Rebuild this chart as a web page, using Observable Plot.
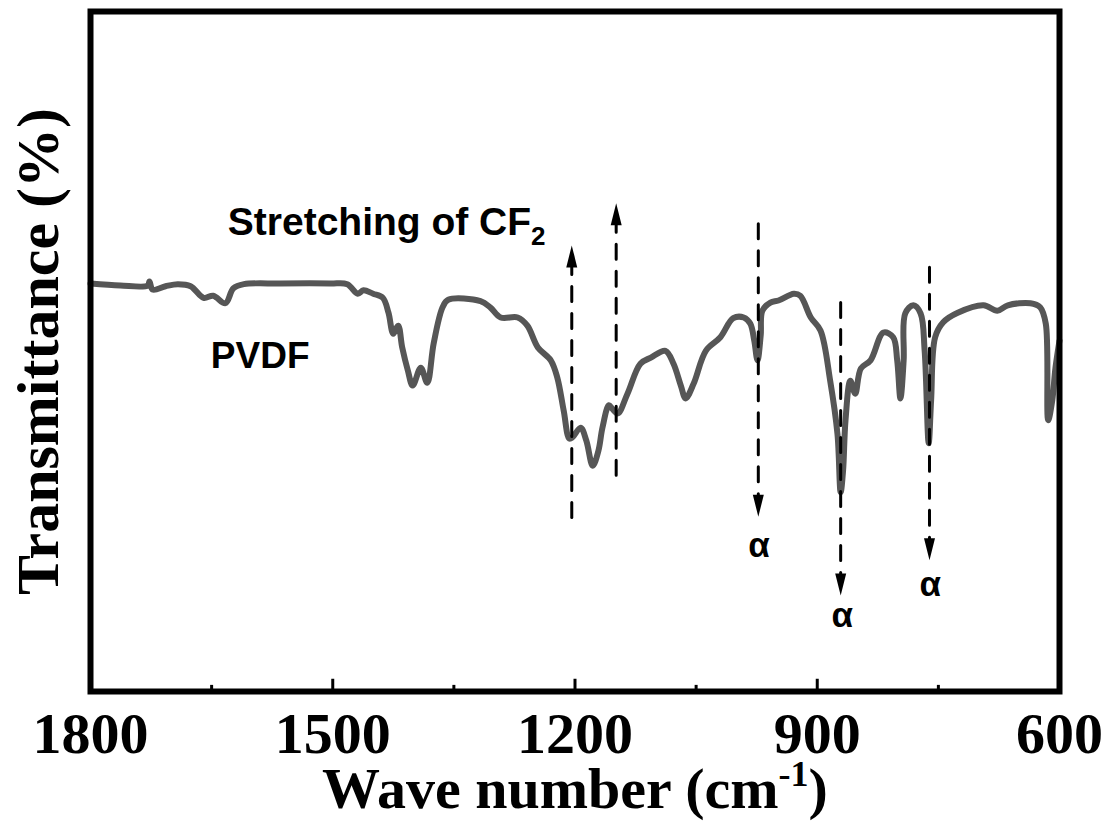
<!DOCTYPE html>
<html>
<head>
<meta charset="utf-8">
<script src="https://cdn.jsdelivr.net/npm/d3@7"></script>
<script src="https://cdn.jsdelivr.net/npm/@observablehq/plot@0.6"></script>
<style>
  html, body { margin: 0; padding: 0; background: #fff; }
  #chart { width: 1113px; height: 829px; }
</style>
</head>
<body>
<div id="chart"></div>
<script>
// ---- Spectrum (PVDF FTIR), wavenumber in cm-1, transmittance in arbitrary %
const wavenumber = [1800,1763,1729,1727,1723,1707,1692,1676,1660,1648,1633,1623,1610,1565,1503,1482,1469,1462,1450,1438,1431,1425,1419,1414,1407,1401,1391,1383,1375,1364,1357,1317,1305,1292,1271,1259,1246,1230,1222,1214,1207,1203,1193,1186,1178,1171,1166,1158,1154,1147,1135,1119,1106,1088,1078,1069,1063,1053,1038,1020,1004,991,983,978,974,970,968,958,948,929,921,908,896,884,875,871,868,865,859,853,846,834,818,806,801,797,793,791,781,772,767,762,759,754,744,726,694,677,664,636,624,617,614,609,605,600];
const transmittance = [60.0,59.7,59.7,60.3,59.1,59.6,59.9,59.6,57.9,58.2,57.1,59.3,59.9,60.0,60.0,59.9,58.5,59.0,58.5,57.9,55.7,52.6,53.8,50.6,47.2,45.0,47.6,45.4,51.2,56.5,57.6,57.4,56.5,55.0,55.0,53.8,50.6,48.7,46.2,41.3,37.2,37.4,38.8,36.9,33.2,35.4,38.8,42.1,41.6,40.9,43.8,48.2,49.1,50.1,48.2,45.0,43.1,45.3,50.1,52.1,54.9,55.0,54.1,51.6,48.7,52.4,56.0,57.2,57.5,58.5,58.2,55.0,53.1,45.7,37.9,29.3,32.5,39.9,45.7,43.8,47.5,48.7,52.8,52.1,48.7,43.1,48.7,55.6,56.8,55.6,50.1,36.5,42.8,52.1,54.3,55.7,56.8,56.0,56.8,57.1,56.5,54.1,39.9,42.8,47.6,51.6];

// ---- Axis ticks
const xTickLabels = [1800, 1500, 1200, 900, 600];
const xMajorTicks = [1500, 1200, 900];
const xMinorTicks = [1650, 1350, 1050, 750];
const xLabel = "Wave number (cm-1)";
const yLabel = "Transmittance (%)";

// ---- Annotation arrows
const arrowX    = [1204, 1149, 973, 871, 761];
const arrowFrom = [25.6, 31.8, 68.8, 57.2, 62.4];
const arrowTip  = [65.6, 71.8, 25.7, 14.1, 19.3];
const arrowDir  = ["up", "up", "down", "down", "down"];

// ---- Annotation labels
const alphaX = [972, 869, 760];
const alphaY = [21.5, 11.2, 15.7];
const alphaText = ["α", "α", "α"];
const stretchLabel = {x: 1630, y: 68.9, text: "Stretching of CF2"};
const sampleLabel = {x: 1651, y: 49.3, text: "PVDF"};

// tables built from arrays
const spectrum = wavenumber.map((w, i) => ({w, t: transmittance[i]}));
const arrows = arrowX.map((x, i) => ({x, from: arrowFrom[i], tip: arrowTip[i], dir: arrowDir[i]}));
const alphas = alphaX.map((x, i) => ({x, y: alphaY[i], text: alphaText[i]}));

const headUp = {draw(ctx) { ctx.moveTo(0, 0); ctx.lineTo(-5.5, 22); ctx.lineTo(5.5, 22); ctx.closePath(); }};
const headDown = {draw(ctx) { ctx.moveTo(0, 0); ctx.lineTo(-5.5, -22); ctx.lineTo(5.5, -22); ctx.closePath(); }};

const serif = "'Liberation Serif', 'Times New Roman', Times, serif";
const sans = "'Liberation Sans', Arial, Helvetica, sans-serif";

const chart = Plot.plot({
  width: 1113,
  height: 829,
  marginLeft: 90,
  marginRight: 54,
  marginTop: 11,
  marginBottom: 138,
  x: {domain: [1800, 600]},
  y: {domain: [0, 100], axis: null},
  style: {fontFamily: serif, fontWeight: "bold", background: "white", color: "black", overflow: "visible"},
  marks: [
    Plot.line(spectrum, {x: "w", y: "t", stroke: "#565656", strokeWidth: 6, strokeLinejoin: "round", strokeLinecap: "round", curve: "catmull-rom"}),
    Plot.arrow(arrows, {x1: "x", y1: "from", x2: "x", y2: "tip", stroke: "black", strokeWidth: 3, strokeDasharray: "15,12", headLength: 0, insetEnd: 14}),
    Plot.dot(arrows.filter(d => d.dir === "up"), {x: "x", y: "tip", symbol: headUp, fill: "black", stroke: "none"}),
    Plot.dot(arrows.filter(d => d.dir === "down"), {x: "x", y: "tip", symbol: headDown, fill: "black", stroke: "none"}),
    Plot.text(alphas, {x: "x", y: "y", text: "text", fontFamily: sans, fontWeight: "bold", fontSize: 35, fill: "black"}),
    Plot.text([stretchLabel], {x: "x", y: "y", text: "text", textAnchor: "start", fontFamily: sans, fontWeight: "bold", fontSize: 39, fill: "black"}),
    Plot.text([sampleLabel], {x: "x", y: "y", text: "text", textAnchor: "start", fontFamily: sans, fontWeight: "bold", fontSize: 37, fill: "black"}),
    Plot.ruleX(xMajorTicks, {x: d => d, y1: 0, y2: 1.8, stroke: "black", strokeWidth: 3}),
    Plot.ruleX(xMinorTicks, {x: d => d, y1: 0, y2: 0.9, stroke: "black", strokeWidth: 3}),
    Plot.frame({stroke: "black", strokeWidth: 6}),
    Plot.axisX({ticks: xTickLabels, tickSize: 0, tickPadding: 20, tickFormat: d => String(d), label: null, fontSize: 58, fontFamily: serif, fontWeight: "bold"}),
    Plot.text([xLabel], {frameAnchor: "bottom", lineAnchor: "middle", dy: 98, fontSize: 58, fontFamily: serif, fontWeight: "bold", fill: "black"}),
    Plot.text([yLabel], {frameAnchor: "left", textAnchor: "middle", lineAnchor: "middle", rotate: -90, dx: -52, fontSize: 60, fontFamily: serif, fontWeight: "bold", fill: "black"})
  ]
});

// rich text (superscript / subscript) for labels
function richText(svg, plain, parts) {
  svg.querySelectorAll("text").forEach(t => {
    if (t.textContent === plain) {
      t.textContent = "";
      for (const p of parts) {
        const ts = document.createElementNS("http://www.w3.org/2000/svg", "tspan");
        ts.textContent = p.text;
        if (p.dy) ts.setAttribute("dy", p.dy);
        if (p.size) ts.setAttribute("font-size", p.size);
        t.appendChild(ts);
      }
    }
  });
}
richText(chart, xLabel, [{text: "Wave number (cm"}, {text: "-1", dy: "-22", size: 36}, {text: ")", dy: "22"}]);
richText(chart, stretchLabel.text, [{text: "Stretching of CF"}, {text: "2", dy: "10", size: 26}]);

document.getElementById("chart").appendChild(chart);
</script>
</body>
</html>
